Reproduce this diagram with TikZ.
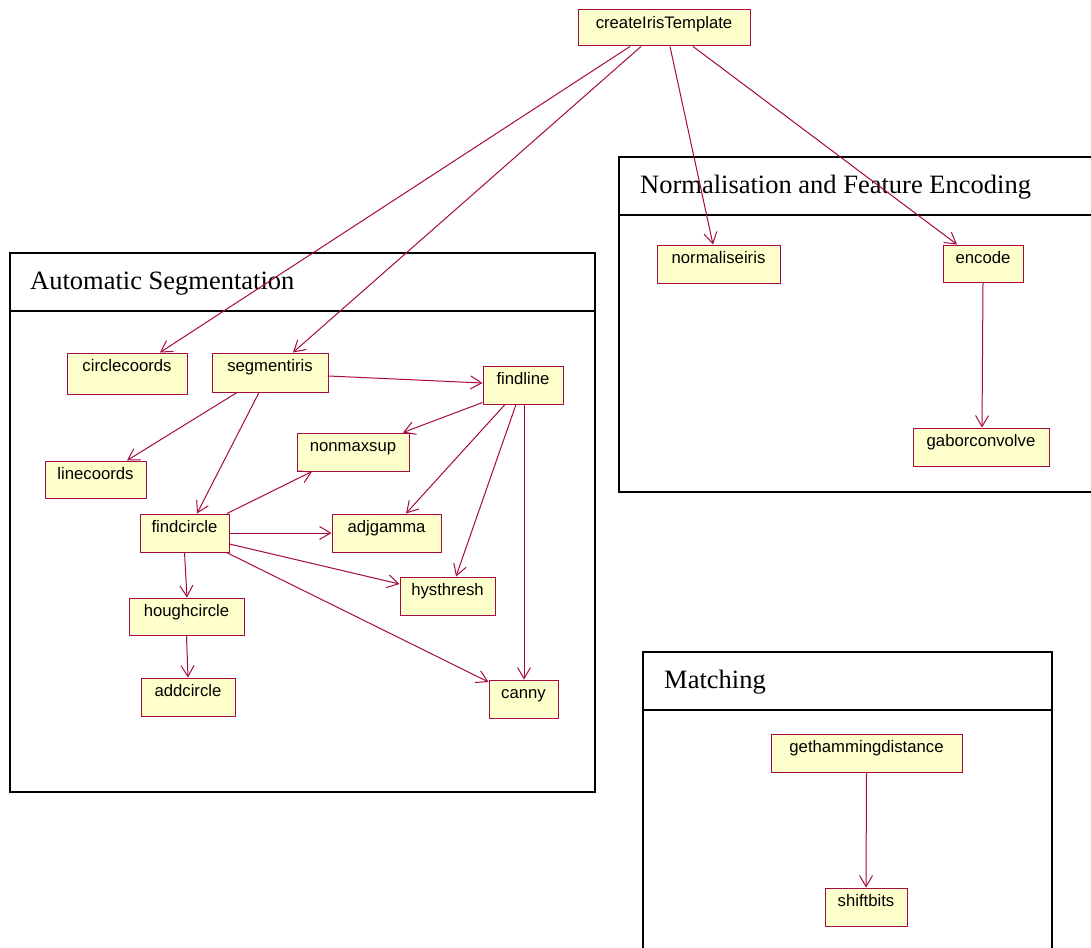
\documentclass[tikz,border=0pt]{standalone}
\usepackage{fontspec}
\setmainfont{Liberation Serif}
\newfontfamily\arialfont{Liberation Sans}
\usetikzlibrary{arrows.meta}
\definecolor{crim}{RGB}{165,10,65}
\definecolor{lightyel}{RGB}{255,255,204}
\tikzset{
  cls/.style={draw=crim, fill=lightyel, line width=1pt, inner sep=0pt,
    font=\arialfont\fontsize{16.7}{18}\selectfont, text height=18.5pt},
  pkg/.style={draw=black, line width=2pt},
  pkgtitle/.style={anchor=base west, inner sep=0pt, font=\fontsize{26.5}{30}\selectfont},
  dep/.style={draw=crim, line width=1pt, -{Straight Barb[length=11pt,width=13pt,line width=1pt]}}
}
\begin{document}
\begin{tikzpicture}[x=1pt,y=-1pt]
\clip (0,0) rectangle (1091,947);
\fill[white] (0,0) rectangle (1091,947);
% packages
\draw[pkg] (10,253) rectangle (595,792);
\draw[pkg] (10,311) -- (595,311);
\node[pkgtitle] (tas) at (30,289) {Automatic Segmentation};
\draw[pkg] (619,157) rectangle (1110,492);
\draw[pkg] (619,215) -- (1110,215);
\node[pkgtitle] (tnf) at (640,193) {Normalisation and Feature Encoding};
\draw[pkg] (643,652) rectangle (1052,970);
\draw[pkg] (643,710) -- (1052,710);
\node[pkgtitle] (tm) at (664,688) {Matching};
% classes
\node[cls, minimum width=172pt, text height=19pt, text depth=17pt] (cit) at (664,28) {createIrisTemplate};
\node[cls, minimum width=120pt, text depth=22.5pt] (cc) at (127,373.5) {circlecoords};
\node[cls, minimum width=116pt, text depth=20.5pt] (seg) at (270,372.5) {segmentiris};
\node[cls, minimum width=80pt, text depth=19.5pt] (fl) at (523,385) {findline};
\node[cls, minimum width=112pt, text depth=19.5pt] (nms) at (353,452) {nonmaxsup};
\node[cls, minimum width=101pt, text depth=18.5pt] (lc) at (95.5,479.5) {linecoords};
\node[cls, minimum width=89pt, text depth=19.5pt] (fc) at (184.5,533) {findcircle};
\node[cls, minimum width=109pt, text depth=19.5pt] (adj) at (386.5,533) {adjgamma};
\node[cls, minimum width=115pt, text depth=18.5pt] (hc) at (186.5,616.5) {houghcircle};
\node[cls, minimum width=95pt, text depth=19.5pt] (hy) at (447.5,596) {hysthresh};
\node[cls, minimum width=94pt, text depth=19.5pt] (ac) at (188,697) {addcircle};
\node[cls, minimum width=69pt, text depth=19.5pt] (can) at (523.5,699) {canny};
\node[cls, minimum width=123pt, text depth=19.5pt] (ni) at (718.5,264) {normaliseiris};
\node[cls, minimum width=80pt, text depth=18.5pt] (enc) at (983,263.5) {encode};
\node[cls, minimum width=136pt, text depth=19.5pt] (gab) at (981,447) {gaborconvolve};
\node[cls, minimum width=191pt, text depth=19.5pt] (ghd) at (866.5,753) {gethammingdistance};
\node[cls, minimum width=82pt, text depth=19.5pt] (sb) at (866,907) {shiftbits};
% dependencies
\draw[dep] ([xshift=-34pt]cit.south) -- ([xshift=33pt]cc.north);
\draw[dep] ([xshift=-23pt]cit.south) -- ([xshift=23pt]seg.north);
\draw[dep] ([xshift=6pt]cit.south) -- ([xshift=-5.5pt]ni.north);
\draw[dep] ([xshift=29pt]cit.south) -- ([xshift=-26pt]enc.north);
\draw[dep] (enc.south) -- ([xshift=1pt]gab.north);
\draw[dep] ([yshift=-3.5pt]seg.east) -- ([yshift=2pt]fl.west);
\draw[dep] ([xshift=-33pt]seg.south) -- ([xshift=31.5pt]lc.north);
\draw[dep] ([xshift=-11pt]seg.south) -- ([xshift=12.5pt]fc.north);
\draw[dep] ([yshift=2pt]fl.south west) -- ([xshift=50pt]nms.north);
\draw[dep] ([xshift=-18pt]fl.south) -- ([xshift=19.5pt]adj.north);
\draw[dep] ([xshift=-7pt]fl.south) -- ([xshift=8.5pt]hy.north);
\draw[dep] ([xshift=1pt]fl.south) -- ([xshift=0.5pt]can.north);
\draw[dep] ([xshift=42.5pt]fc.north) -- ([xshift=-41pt]nms.south);
\draw[dep] (fc.east) -- (adj.west);
\draw[dep] ([yshift=-11pt]fc.east) -- ([yshift=12pt]hy.west);
\draw[dep] ([xshift=-3pt]fc.south east) -- ([yshift=17pt]can.west);
\draw[dep] (fc.south) -- ([xshift=0.5pt]hc.north);
\draw[dep] (hc.south) -- (ac.north);
\draw[dep] (ghd.south) -- (sb.north);
\end{tikzpicture}
\end{document}
